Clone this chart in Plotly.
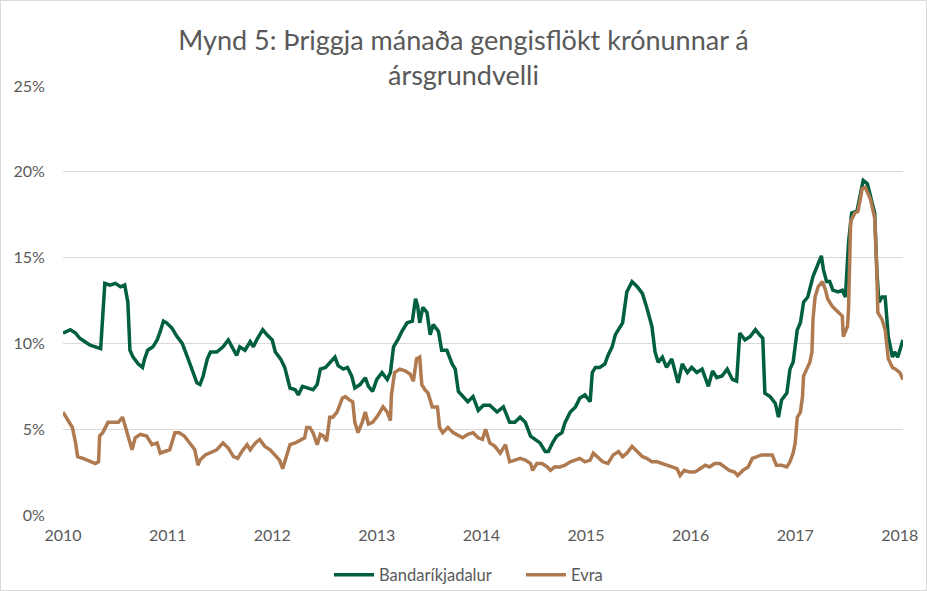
import plotly.graph_objects as go

# ---- Data ----
usd_years = [2010.00, 2010.07, 2010.12, 2010.16, 2010.21, 2010.26, 2010.31, 2010.36, 2010.40,
             2010.45, 2010.50, 2010.55, 2010.59, 2010.62, 2010.64, 2010.67, 2010.72, 2010.76,
             2010.78, 2010.81, 2010.86, 2010.90, 2010.93, 2010.96, 2010.99, 2011.04, 2011.09,
             2011.14, 2011.19, 2011.23, 2011.28, 2011.31, 2011.34, 2011.38, 2011.41, 2011.47,
             2011.53, 2011.58, 2011.63, 2011.66, 2011.69, 2011.74, 2011.79, 2011.82, 2011.86,
             2011.91, 2011.95, 2012.00, 2012.03, 2012.08, 2012.12, 2012.15, 2012.17, 2012.22,
             2012.25, 2012.29, 2012.34, 2012.39, 2012.43, 2012.46, 2012.51, 2012.55, 2012.60,
             2012.63, 2012.68, 2012.72, 2012.76, 2012.79, 2012.84, 2012.89, 2012.92, 2012.96,
             2013.00, 2013.05, 2013.10, 2013.13, 2013.16, 2013.20, 2013.24, 2013.29, 2013.34,
             2013.37, 2013.39, 2013.41, 2013.44, 2013.48, 2013.51, 2013.54, 2013.59, 2013.62,
             2013.67, 2013.72, 2013.75, 2013.78, 2013.82, 2013.87, 2013.92, 2013.97, 2014.02,
             2014.08, 2014.15, 2014.21, 2014.27, 2014.32, 2014.37, 2014.42, 2014.47, 2014.51,
             2014.56, 2014.61, 2014.64, 2014.68, 2014.72, 2014.77, 2014.80, 2014.85, 2014.90,
             2014.94, 2014.99, 2015.04, 2015.06, 2015.09, 2015.13, 2015.18, 2015.21, 2015.25,
             2015.28, 2015.31, 2015.35, 2015.39, 2015.44, 2015.49, 2015.54, 2015.58, 2015.63,
             2015.66, 2015.69, 2015.73, 2015.77, 2015.82, 2015.85, 2015.88, 2015.92, 2015.97,
             2016.01, 2016.06, 2016.11, 2016.17, 2016.21, 2016.25, 2016.30, 2016.35, 2016.40,
             2016.44, 2016.47, 2016.52, 2016.57, 2016.62, 2016.66, 2016.69, 2016.71, 2016.76,
             2016.81, 2016.84, 2016.87, 2016.92, 2016.95, 2016.98, 2017.02, 2017.05, 2017.08,
             2017.12, 2017.17, 2017.21, 2017.25, 2017.27, 2017.30, 2017.33, 2017.36, 2017.41,
             2017.45, 2017.48, 2017.51, 2017.54, 2017.59, 2017.62, 2017.65, 2017.69, 2017.73,
             2017.76, 2017.78, 2017.80, 2017.83, 2017.86, 2017.89, 2017.93, 2017.95, 2017.98,
             2018.02, 2018.03]
usd_values = [10.6, 10.8, 10.6, 10.3, 10.1, 9.9, 9.8, 9.7, 13.5,
              13.4, 13.5, 13.3, 13.4, 12.4, 9.6, 9.2, 8.8, 8.6,
              9.1, 9.6, 9.8, 10.2, 10.7, 11.3, 11.2, 10.9, 10.4,
              10.0, 9.2, 8.5, 7.7, 7.6, 8.1, 9.1, 9.5, 9.5,
              9.8, 10.2, 9.6, 9.3, 9.8, 9.6, 10.1, 9.8, 10.3,
              10.8, 10.5, 10.2, 9.5, 9.1, 8.6, 7.9, 7.4, 7.3,
              7.0, 7.5, 7.4, 7.3, 7.6, 8.5, 8.6, 8.9, 9.2,
              8.7, 8.5, 8.6, 8.1, 7.4, 7.6, 8.0, 7.5, 7.2,
              7.9, 8.3, 7.9, 8.3, 9.8, 10.2, 10.7, 11.2, 11.3,
              12.6, 12.2, 11.2, 12.1, 11.8, 10.5, 11.1, 10.7, 9.6,
              9.6, 8.8, 8.5, 7.2, 6.9, 6.6, 6.9, 6.1, 6.4,
              6.4, 6.0, 6.3, 5.4, 5.4, 5.7, 5.4, 4.6, 4.4,
              4.2, 3.7, 3.7, 4.2, 4.6, 4.8, 5.4, 6.0, 6.3,
              6.8, 7.0, 6.6, 8.3, 8.6, 8.6, 8.8, 9.3, 9.8,
              10.5, 10.8, 11.2, 13.0, 13.6, 13.3, 12.9, 12.1, 11.0,
              9.5, 8.9, 9.2, 8.6, 9.1, 8.3, 7.7, 8.8, 8.3,
              8.6, 8.3, 8.5, 7.5, 8.4, 8.0, 8.1, 8.5, 7.9,
              7.8, 10.6, 10.2, 10.4, 10.8, 10.5, 10.3, 7.1, 6.9,
              6.5, 5.7, 6.7, 7.1, 8.5, 8.9, 10.8, 11.2, 12.4,
              12.7, 13.9, 14.5, 15.1, 14.3, 13.6, 13.6, 13.1, 13.0,
              13.1, 12.7, 15.9, 17.6, 17.7, 18.6, 19.5, 19.3, 18.2,
              17.6, 14.3, 12.4, 12.7, 12.7, 10.4, 9.2, 9.5, 9.2,
              10.0, 10.2]

eur_years = [2010.00, 2010.05, 2010.09, 2010.12, 2010.14, 2010.19, 2010.26, 2010.31, 2010.34,
             2010.35, 2010.38, 2010.43, 2010.48, 2010.53, 2010.57, 2010.61, 2010.66, 2010.69,
             2010.74, 2010.80, 2010.85, 2010.90, 2010.93, 2010.97, 2011.02, 2011.07, 2011.11,
             2011.16, 2011.21, 2011.26, 2011.29, 2011.31, 2011.36, 2011.43, 2011.47, 2011.53,
             2011.58, 2011.63, 2011.67, 2011.71, 2011.76, 2011.79, 2011.84, 2011.88, 2011.93,
             2011.98, 2012.03, 2012.07, 2012.10, 2012.14, 2012.17, 2012.22, 2012.27, 2012.31,
             2012.33, 2012.36, 2012.39, 2012.43, 2012.46, 2012.49, 2012.52, 2012.55, 2012.58,
             2012.62, 2012.67, 2012.70, 2012.74, 2012.77, 2012.79, 2012.82, 2012.86, 2012.89,
             2012.92, 2012.96, 2013.01, 2013.06, 2013.10, 2013.13, 2013.14, 2013.17, 2013.22,
             2013.27, 2013.32, 2013.35, 2013.38, 2013.41, 2013.43, 2013.46, 2013.49, 2013.53,
             2013.58, 2013.60, 2013.63, 2013.68, 2013.73, 2013.78, 2013.82, 2013.87, 2013.92,
             2013.97, 2014.01, 2014.04, 2014.08, 2014.13, 2014.18, 2014.23, 2014.27, 2014.32,
             2014.37, 2014.42, 2014.47, 2014.49, 2014.53, 2014.58, 2014.63, 2014.66, 2014.70,
             2014.75, 2014.80, 2014.85, 2014.89, 2014.94, 2014.99, 2015.04, 2015.07, 2015.12,
             2015.16, 2015.21, 2015.26, 2015.31, 2015.35, 2015.39, 2015.44, 2015.49, 2015.54,
             2015.58, 2015.63, 2015.68, 2015.73, 2015.77, 2015.82, 2015.87, 2015.90, 2015.94,
             2015.99, 2016.04, 2016.09, 2016.14, 2016.18, 2016.23, 2016.28, 2016.33, 2016.37,
             2016.42, 2016.45, 2016.50, 2016.55, 2016.59, 2016.64, 2016.68, 2016.72, 2016.78,
             2016.82, 2016.87, 2016.92, 2016.95, 2016.98, 2017.00, 2017.02, 2017.05, 2017.07,
             2017.08, 2017.11, 2017.14, 2017.16, 2017.17, 2017.19, 2017.22, 2017.26, 2017.29,
             2017.31, 2017.35, 2017.38, 2017.41, 2017.45, 2017.46, 2017.50, 2017.51, 2017.53,
             2017.57, 2017.60, 2017.64, 2017.67, 2017.72, 2017.76, 2017.78, 2017.79, 2017.83,
             2017.86, 2017.89, 2017.93, 2017.96, 2018.00, 2018.03]
eur_values = [6.0, 5.5, 5.1, 4.2, 3.4, 3.3, 3.1, 3.0, 3.1,
              4.6, 4.8, 5.4, 5.4, 5.4, 5.7, 4.8, 3.8, 4.5,
              4.7, 4.6, 4.1, 4.2, 3.6, 3.7, 3.8, 4.8, 4.8,
              4.6, 4.2, 3.8, 2.9, 3.2, 3.5, 3.7, 3.8, 4.2,
              3.9, 3.4, 3.3, 3.7, 4.1, 3.8, 4.2, 4.4, 4.0,
              3.8, 3.5, 3.2, 2.7, 3.6, 4.1, 4.2, 4.4, 4.5,
              5.1, 5.1, 4.8, 4.1, 4.7, 4.6, 4.3, 5.7, 5.7,
              6.0, 6.8, 6.9, 6.7, 6.6, 5.4, 4.8, 5.4, 6.0,
              5.3, 5.4, 5.8, 6.3, 6.0, 5.5, 7.0, 8.3, 8.5,
              8.4, 8.2, 7.8, 9.1, 9.2, 7.6, 7.3, 7.1, 6.3,
              6.3, 5.1, 4.8, 5.1, 4.8, 4.6, 4.5, 4.7, 4.8,
              4.5, 4.4, 5.0, 4.2, 4.0, 3.6, 4.1, 3.1, 3.2,
              3.3, 3.2, 3.0, 2.6, 3.0, 3.0, 2.8, 2.6, 2.8,
              2.8, 2.9, 3.1, 3.2, 3.3, 3.1, 3.2, 3.6, 3.3,
              3.1, 3.0, 3.5, 3.7, 3.4, 3.6, 4.0, 3.7, 3.4,
              3.3, 3.1, 3.1, 3.0, 2.9, 2.8, 2.7, 2.3, 2.6,
              2.5, 2.5, 2.7, 2.9, 2.8, 3.0, 3.0, 2.8, 2.6,
              2.5, 2.3, 2.6, 2.8, 3.3, 3.4, 3.5, 3.5, 3.5,
              2.9, 2.9, 2.8, 3.1, 3.6, 4.2, 5.7, 6.0, 6.9,
              8.1, 8.5, 8.9, 9.5, 11.4, 12.7, 13.3, 13.6, 13.1,
              12.6, 12.2, 12.0, 11.8, 11.6, 10.4, 11.0, 12.0, 17.1,
              17.6, 17.7, 19.0, 19.1, 18.4, 17.3, 14.3, 11.8, 11.4,
              10.8, 9.1, 8.6, 8.5, 8.3, 7.9]

year_ticks = [2010, 2011, 2012, 2013, 2014, 2015, 2016, 2017, 2018]
pct_ticks = [0, 5, 10, 15, 20, 25]
pct_labels = ["0%", "5%", "10%", "15%", "20%", "25%"]
series_names = ["Bandaríkjadalur", "Evra"]
title_text = "Mynd 5: Þriggja mánaða gengisflökt krónunnar á<br>ársgrundvelli"

GREEN = "#005F3F"
BROWN = "#B07A50"
GRID = "#D9D9D9"
TXT = "#595959"
FONT = "Lato, 'Open Sans', sans-serif"

fig = go.Figure()
fig.add_trace(go.Scatter(x=usd_years, y=usd_values, mode="lines", name=series_names[0],
                         line=dict(color=GREEN, width=3.5)))
fig.add_trace(go.Scatter(x=eur_years, y=eur_values, mode="lines", name=series_names[1],
                         line=dict(color=BROWN, width=3.5)))

W, H = 927, 591
L, R, T, B = 63, 24, 86, 76
pw, ph = W - L - R, H - T - B

fig.update_layout(
    width=W, height=H,
    margin=dict(l=L, r=R, t=T, b=B, autoexpand=False),
    paper_bgcolor="white", plot_bgcolor="white",
    font=dict(family=FONT, color=TXT, size=16),
    title=dict(text=title_text, x=0.5, xanchor="center", y=1 - 50 / H, yanchor="middle",
               font=dict(size=27, color=TXT, family=FONT)),
    showlegend=True,
    legend=dict(orientation="h", x=(329 - L) / pw, xanchor="left", y=-(575 - (H - B)) / ph,
                yanchor="middle", font=dict(size=16.5, color=TXT), itemwidth=40,
                entrywidth=137, entrywidthmode="pixels", traceorder="normal"),
    xaxis=dict(range=[2010, 2010 + pw / 104.6], tickmode="array", tickvals=year_ticks,
               ticktext=[str(v) for v in year_ticks], showgrid=False, zeroline=False,
               showline=False, ticks="outside", ticklen=6, tickcolor="rgba(0,0,0,0)",
               automargin=False, tickfont=dict(size=16, color=TXT)),
    yaxis=dict(range=[0, 25], tickmode="array", tickvals=pct_ticks, ticktext=pct_labels,
               showgrid=True, gridcolor=GRID, gridwidth=1.3, zeroline=False, showline=False,
               ticks="outside", ticklen=14, tickcolor="rgba(0,0,0,0)", automargin=False,
               tickfont=dict(size=16, color=TXT)),
)

fig.write_html(
    "out.html", config={"displayModeBar": False},
    post_script=("document.body.style.margin='0';document.body.style.overflow='hidden';"
                 "var f=document.createElement('div');"
                 "f.style.cssText='position:absolute;left:0;top:0;width:927px;height:591px;"
                 "box-sizing:border-box;border:1px solid #D9D9D9;pointer-events:none;z-index:1000;';"
                 "document.body.appendChild(f);"))
